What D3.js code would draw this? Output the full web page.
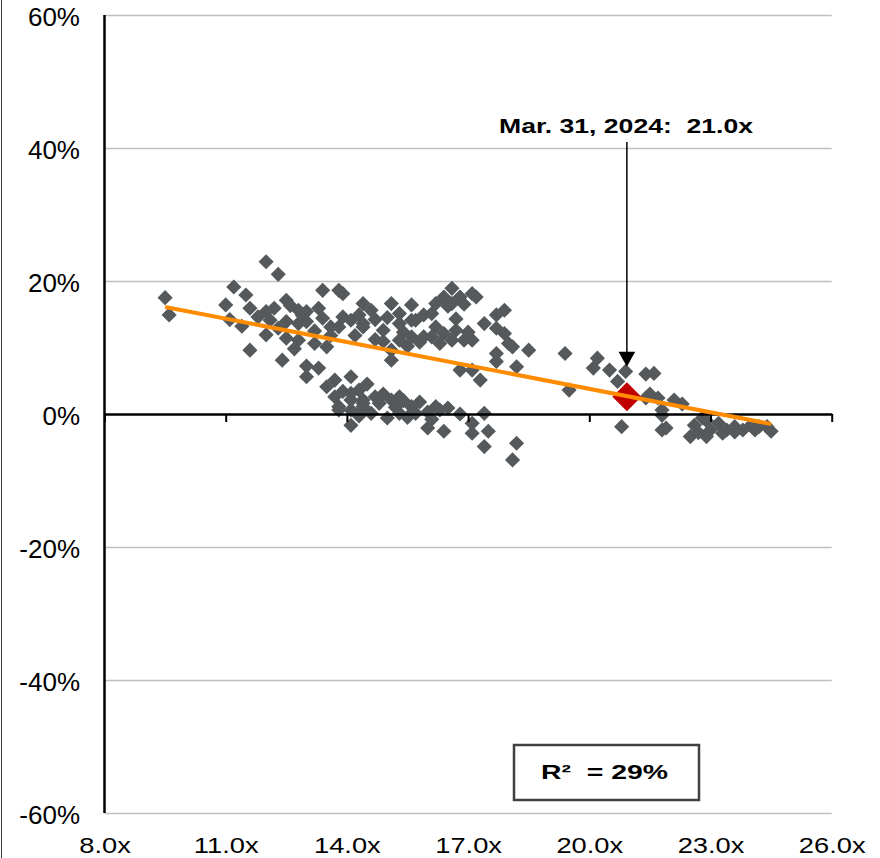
<!DOCTYPE html>
<html>
<head>
<meta charset="utf-8">
<script src="https://cdn.jsdelivr.net/npm/d3@7"></script>
<style>
  body { margin: 0; background: #fff; }
  text { font-family: "Liberation Sans", Arial, sans-serif; fill: #000; }
</style>
</head>
<body>
<script>
// forward P/E vs subsequent 1-yr return
const pe = [
  9.5, 9.6, 11.0, 11.1, 11.2, 11.5, 11.4, 11.6, 12.0, 12.3, 12.0, 12.2, 12.5, 12.8, 13.0, 13.4, 13.8, 13.9, 14.4,
  12.1, 12.5, 12.8, 13.0, 13.4, 13.8, 14.1, 14.4, 12.0, 12.5, 12.8, 13.2, 13.5, 12.4, 13.0, 13.3, 13.0, 13.5,
  13.7, 14.1, 13.9, 14.3, 13.8, 14.1, 14.4, 14.1, 14.4,
  14.3, 14.6, 14.4, 15.1, 15.3, 15.6, 15.3, 15.6, 15.7, 14.9, 15.1, 15.1, 15.3, 15.6, 15.9, 16.1, 16.2, 16.4,
  16.6, 16.8, 17.1, 16.6, 16.2, 16.4, 16.7, 16.3, 16.6, 16.9, 17.1, 17.4, 16.8, 17.1, 17.3, 17.9, 17.7, 17.7,
  17.9, 18.0, 17.7, 17.7, 18.2, 18.5, 18.1, 13.6,
  13.7, 14.1, 14.4, 13.8, 14.1, 14.4, 14.7, 14.8, 15.1, 15.3, 14.6, 15.0, 15.3, 15.6, 15.7, 16.0, 16.2, 16.3,
  16.0, 16.4, 17.4, 17.1, 17.1, 17.5, 17.4, 18.2, 18.1,
  19.4, 19.5, 20.2, 20.1, 20.5, 20.9, 20.7, 21.6, 21.4, 21.7, 22.1, 21.8, 21.8, 20.8, 21.8, 22.6, 22.5, 22.8,
  23.0, 23.2, 23.4, 22.9, 23.6, 23.8, 24.0, 24.1, 24.4, 24.5,
  21.4, 21.5, 22.3, 22.9, 23.3, 23.6, 24.2, 22.7, 21.9,
  12.6, 12.9, 13.2, 13.6, 13.9, 14.7, 14.9, 15.4, 15.8, 16.1, 15.0, 15.9, 16.5, 16.9, 17.2, 16.7, 17.0, 15.5,
  14.7, 14.2, 12.7, 11.8, 11.6, 13.3, 12.3,
  14.5, 14.9, 15.2, 15.5, 15.8, 16.1, 14.3, 16.5, 16.8, 15.4
];
const ret = [
  17.5, 14.9, 16.4, 14.2, 19.1, 17.9, 13.2, 9.6, 22.9, 21.0, 15.4, 15.9, 17.1, 15.6, 15.4, 18.6, 18.6, 18.1, 16.6,
  14.1, 13.9, 13.6, 13.9, 14.4, 13.1, 14.1, 13.6, 11.9, 11.4, 11.1, 10.6, 10.1, 8.1, 7.2, 6.9, 5.6, 4.1,
  2.6, 5.6, 3.4, 3.6, 1.1, 2.1, 1.6, -1.7, 0.6,
  14.9, 15.6, 13.1, 16.6, 15.1, 16.4, 13.6, 14.1, 14.1, 10.9, 9.6, 8.1, 11.1, 11.6, 11.6, 15.1, 16.6, 17.6,
  18.9, 17.6, 18.1, 16.6, 13.1, 12.1, 12.6, 10.6, 11.1, 11.1, 11.1, 13.6, 6.6, 6.6, 5.1, 15.6, 14.9, 12.9,
  12.1, 10.6, 9.1, 7.9, 7.1, 9.6, 10.1, 13.1,
  5.1, 3.1, 2.1, 0.6, 0.6, 1.1, 2.6, 1.6, 2.1, 2.6, 0.1, -0.6, 0.1, 1.1, 0.1, 0.3, 1.1, 0.6,
  -2.1, -2.6, 0.1, -1.4, -2.9, -2.6, -4.9, -4.4, -6.9,
  9.1, 3.6, 8.4, 6.9, 6.6, 6.4, 4.9, 6.1, 2.4, 2.4, 2.1, 0.6, -0.2, -1.9, -2.4, -1.7, -3.4, -0.6,
  -2.4, -1.4, -2.4, -3.4, -1.9, -2.4, -1.7, -2.4, -1.9, -2.6,
  6.0, 3.0, 1.5, -1.0, -2.9, -2.7, -1.9, -2.8, -2.1,
  16.3, 14.8, 12.5, 11.8, 14.6, 14.2, 12.6, 12.3, 10.8, 11.6, 14.5, 14.9, 16.2, 16.5, 17.6, 14.3, 12.3, 10.2,
  11.2, 11.8, 9.8, 14.6, 15.9, 15.9, 12.9,
  4.5, 3.0, 1.0, -0.5, 1.8, -0.8, -0.3, 0.9, 0.0, 2.0
];

const currentPE = 20.93;
const currentRet = 2.6;
const currentLabel = "Mar. 31, 2024:  21.0x";

// regression line end points
const trendX = [9.5, 24.5];
const trendY = [16.1, -1.5];
const rSquared = "R\u00B2  = 29%";

const xTicks = [8, 11, 14, 17, 20, 23, 26];
const yTicks = [-60, -40, -20, 0, 20, 40, 60];

const W = 880, H = 858;
const margin = {top: 15, right: 48.3, bottom: 45, left: 104.5};
const width = W - margin.left - margin.right;
const height = H - margin.top - margin.bottom;

const svg = d3.select("body").append("svg")
    .attr("width", W)
    .attr("height", H);

// outer frame edge, only the left side is visible
svg.append("line")
    .attr("x1", 1.5).attr("x2", 1.5)
    .attr("y1", 0).attr("y2", H)
    .attr("stroke", "#404040").attr("stroke-width", 1);

const g = svg.append("g").attr("transform", `translate(${margin.left},${margin.top})`);

const x = d3.scaleLinear().domain([8, 26]).range([0, width]);
const y = d3.scaleLinear().domain([-60, 60]).range([height, 0]);

// gridlines + y labels
const yAxis = g.append("g")
    .call(d3.axisLeft(y).tickValues(yTicks).tickSize(-width).tickPadding(24.5)
        .tickFormat(d => d + "%"));
yAxis.select(".domain").remove();
yAxis.selectAll("line")
    .attr("stroke", d => d === 0 ? "none" : "#c0c0c0")
    .attr("stroke-width", 1.5);
yAxis.selectAll("text")
    .attr("font-size", 26)
    .attr("dy", "0.4em")
    .style("font-family", "'Liberation Sans', Arial, sans-serif");

// x labels at the bottom (kept just inside the frame)
const xLabels = g.append("g")
    .attr("transform", `translate(0,${height})`)
    .call(d3.axisBottom(x).tickValues(xTicks).tickSize(0).tickPadding(24)
        .tickFormat(d => d.toFixed(1) + "x"));
xLabels.select(".domain").remove();
xLabels.selectAll("text")
    .attr("font-size", 22)
    .attr("transform", "scale(1.24,1)")
    .style("font-family", "'Liberation Sans', Arial, sans-serif");

// y axis line
g.append("line")
    .attr("x1", 0).attr("x2", 0)
    .attr("y1", 0).attr("y2", height)
    .attr("stroke", "#000").attr("stroke-width", 2.5);

// points
const pts = pe.map((v, i) => ({pe: v, ret: ret[i]}));
const sq = d3.symbol().type(d3.symbolSquare).size(115);
g.append("g").selectAll("path")
    .data(pts)
    .join("path")
    .attr("d", sq)
    .attr("transform", d => `translate(${x(d.pe)},${y(d.ret)}) rotate(45)`)
    .attr("fill", "#55595b");

// zero line with ticks
const zeroAxis = g.append("g")
    .attr("transform", `translate(0,${y(0)})`)
    .call(d3.axisBottom(x).tickValues(xTicks).tickSize(8).tickSizeOuter(0).tickFormat(""));
zeroAxis.select(".domain").attr("stroke", "#000").attr("stroke-width", 2.5);
zeroAxis.selectAll(".tick line").attr("stroke", "#000").attr("stroke-width", 2);

// current value
g.append("path")
    .attr("d", d3.symbol().type(d3.symbolSquare).size(420))
    .attr("transform", `translate(${x(currentPE)},${y(currentRet)}) rotate(45)`)
    .attr("fill", "#c00000");

// regression line
g.append("path")
    .datum(trendX.map((v, i) => [v, trendY[i]]))
    .attr("d", d3.line().x(d => x(d[0])).y(d => y(d[1])))
    .attr("stroke", "#ff8c00")
    .attr("stroke-width", 4)
    .attr("fill", "none");

// annotation arrow
const ax = x(currentPE);
const tipY = y(currentRet) - 30;
g.append("line")
    .attr("x1", ax).attr("x2", ax)
    .attr("y1", 127).attr("y2", tipY - 14)
    .attr("stroke", "#000").attr("stroke-width", 1.5);
g.append("path")
    .attr("d", `M${ax - 8.3},${tipY - 15}L${ax + 8.3},${tipY - 15}L${ax},${tipY}Z`)
    .attr("fill", "#000");

svg.append("text")
    .attr("x", 499).attr("y", 133)
    .attr("font-size", 21)
    .attr("font-weight", "bold")
    .attr("textLength", 254)
    .attr("lengthAdjust", "spacingAndGlyphs")
    .style("white-space", "pre")
    .text(currentLabel);

// R squared box
svg.append("rect")
    .attr("x", 514).attr("y", 745)
    .attr("width", 185).attr("height", 55)
    .attr("fill", "#fff")
    .attr("stroke", "#404040")
    .attr("stroke-width", 2.5);
svg.append("text")
    .attr("x", 541).attr("y", 779)
    .attr("font-size", 21)
    .attr("font-weight", "bold")
    .attr("textLength", 127)
    .attr("lengthAdjust", "spacingAndGlyphs")
    .style("white-space", "pre")
    .text(rSquared);
</script>
</body>
</html>
